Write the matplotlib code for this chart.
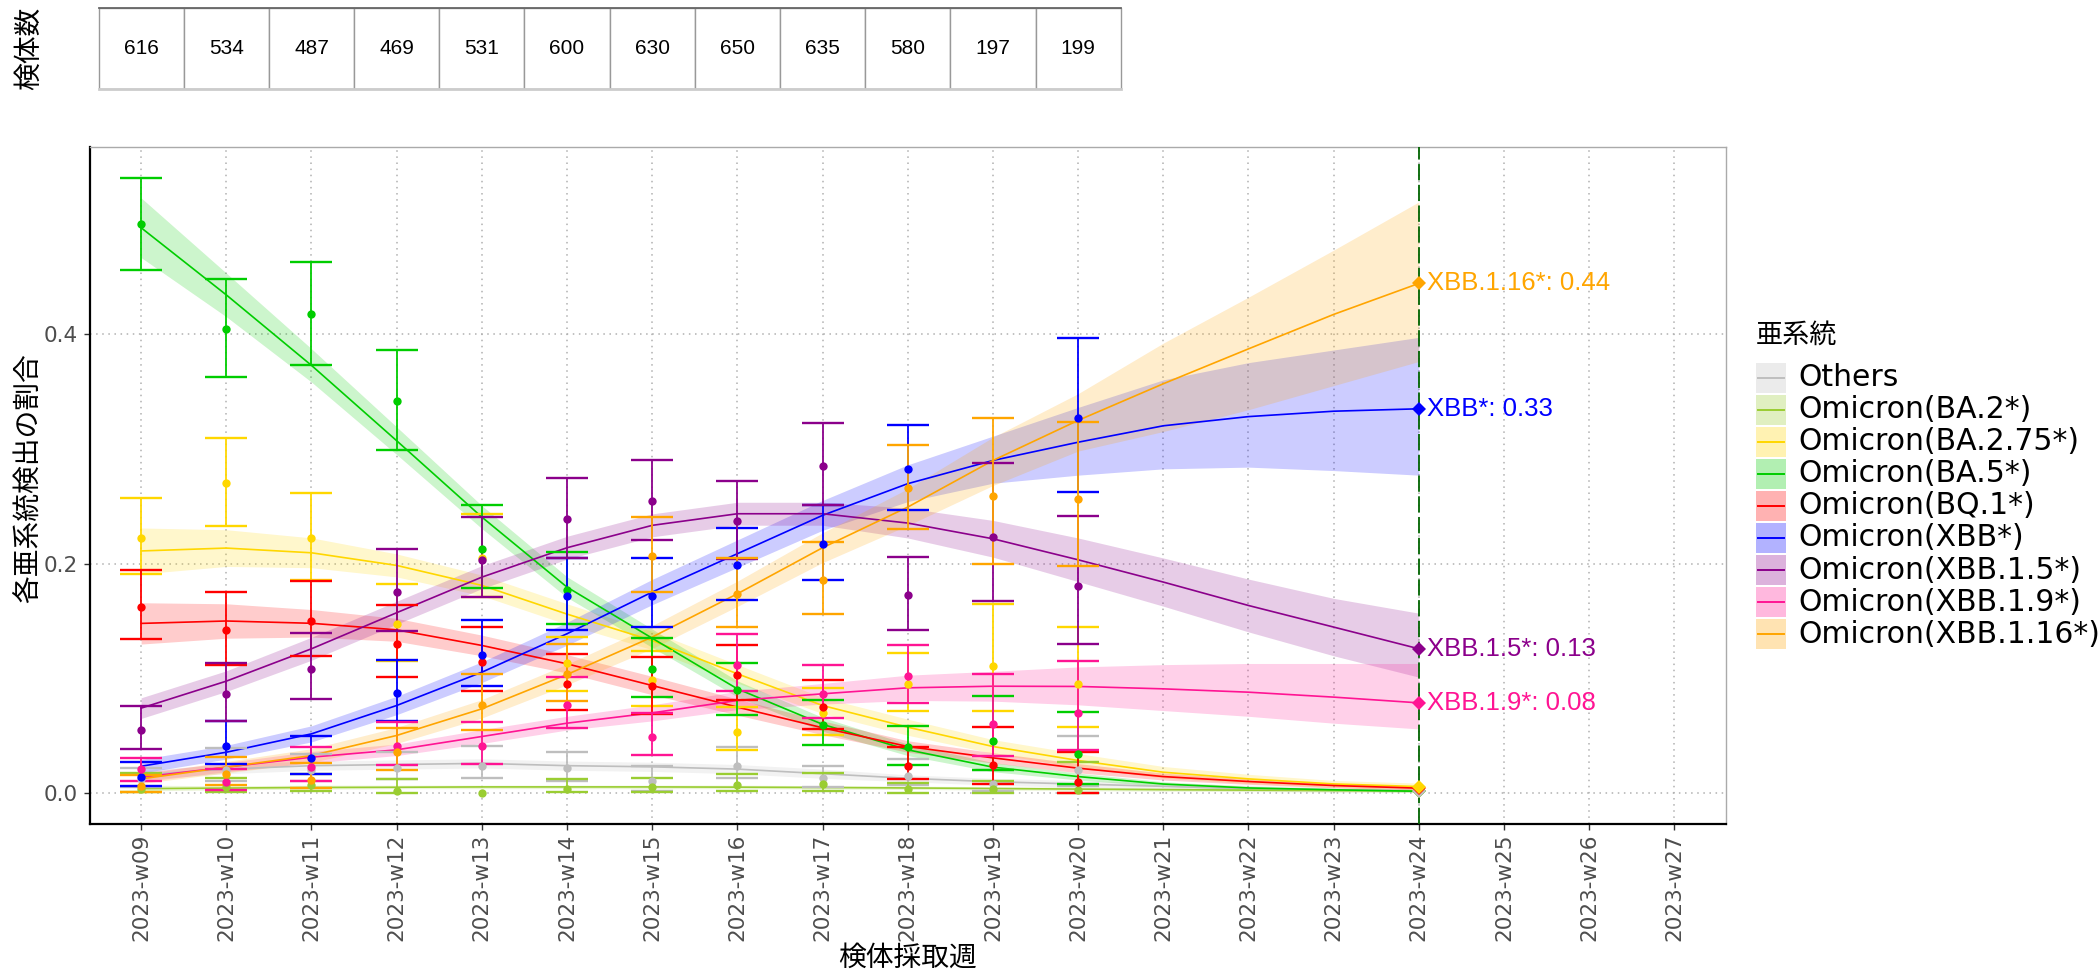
import numpy as np
import matplotlib
matplotlib.use("Agg")
import matplotlib.pyplot as plt
from matplotlib.patches import Rectangle
from matplotlib.lines import Line2D

plt.rcParams['font.family'] = ['DejaVu Sans', 'Noto Sans CJK JP']
JP = ['Noto Sans CJK JP', 'DejaVu Sans']

# ---- data ----
week_labels = ["2023-w09", "2023-w10", "2023-w11", "2023-w12", "2023-w13",
               "2023-w14", "2023-w15", "2023-w16", "2023-w17", "2023-w18",
               "2023-w19", "2023-w20", "2023-w21", "2023-w22", "2023-w23",
               "2023-w24", "2023-w25", "2023-w26", "2023-w27"]
counts = [616, 534, 487, 469, 531, 600, 630, 650, 635, 580, 197, 199]

names = ["Others", "Omicron(BA.2*)", "Omicron(BA.2.75*)", "Omicron(BA.5*)",
         "Omicron(BQ.1*)", "Omicron(XBB*)", "Omicron(XBB.1.5*)",
         "Omicron(XBB.1.9*)", "Omicron(XBB.1.16*)"]
short_names = [None, None, None, None, None, "XBB*", "XBB.1.5*", "XBB.1.9*", "XBB.1.16*"]
colors = ["#BEBEBE", "#9ACD32", "#FFD700", "#00CD00", "#FF0000",
          "#0000FF", "#8B008B", "#FF1493", "#FFA500"]

# observed proportions with CI (w09..w20)
others_pt = [0.012, 0.020, 0.020, 0.022, 0.024, 0.022, 0.011, 0.024, 0.013, 0.015, 0.008, 0.020]
others_lo = [0.005, 0.011, 0.011, 0.012, 0.013, 0.011, 0.002, 0.013, 0.005, 0.007, 0.002, 0.006]
others_hi = [0.022, 0.039, 0.034, 0.036, 0.041, 0.036, 0.024, 0.040, 0.024, 0.030, 0.020, 0.050]

ba2_pt = [0.004, 0.005, 0.007, 0.002, 0.000, 0.004, 0.005, 0.007, 0.008, 0.004, 0.004, 0.003]
ba2_lo = [0.001, 0.001, 0.002, 0.000, np.nan, 0.001, 0.001, 0.002, 0.002, 0.000, 0.000, 0.000]
ba2_hi = [0.018, 0.013, 0.017, 0.012, np.nan, 0.012, 0.013, 0.017, 0.018, 0.009, 0.011, 0.027]

ba275_pt = [0.2225, 0.2702, 0.2219, 0.1476, 0.205, 0.113, 0.0988, 0.0537, 0.0697, 0.095, 0.111, 0.0953]
ba275_lo = [0.1906, 0.2327, 0.1853, 0.115, 0.171, 0.089, 0.0764, 0.0378, 0.051, 0.072, 0.0712, 0.058]
ba275_hi = [0.2574, 0.3098, 0.2614, 0.1824, 0.243, 0.136, 0.124, 0.075, 0.092, 0.1217, 0.1644, 0.1452]

ba5_pt = [0.4954, 0.4045, 0.417, 0.3412, 0.213, 0.177, 0.1078, 0.0895, 0.0598, 0.040, 0.0453, 0.034]
ba5_lo = [0.4553, 0.3626, 0.3728, 0.2985, 0.179, 0.147, 0.0842, 0.068, 0.0424, 0.025, 0.0206, 0.008]
ba5_hi = [0.5358, 0.4478, 0.4623, 0.3862, 0.2507, 0.2097, 0.135, 0.1136, 0.0808, 0.0584, 0.0845, 0.0709]

bq1_pt = [0.162, 0.142, 0.1499, 0.130, 0.1147, 0.095, 0.0938, 0.103, 0.0755, 0.0238, 0.025, 0.0099]
bq1_lo = [0.134, 0.112, 0.1194, 0.1008, 0.0889, 0.0726, 0.069, 0.0808, 0.056, 0.0128, 0.0081, 0.0006]
bq1_hi = [0.194, 0.1749, 0.185, 0.1635, 0.145, 0.121, 0.119, 0.129, 0.0988, 0.040, 0.0578, 0.036]

xbb_pt = [0.014, 0.0407, 0.0305, 0.0871, 0.1205, 0.1717, 0.172, 0.1984, 0.2167, 0.2825, np.nan, 0.327]
xbb_lo = [0.0061, 0.0256, 0.0168, 0.0633, 0.0938, 0.1423, 0.1444, 0.1685, 0.186, 0.2463, np.nan, 0.262]
xbb_hi = [0.027, 0.0627, 0.050, 0.116, 0.151, 0.205, 0.2048, 0.2312, 0.251, 0.3211, np.nan, 0.3966]

xbb15_pt = [0.0552, 0.086, 0.1086, 0.1749, 0.2033, 0.2385, 0.2542, 0.237, 0.285, 0.1723, 0.2231, 0.1807]
xbb15_lo = [0.0383, 0.0633, 0.0822, 0.1415, 0.1705, 0.2045, 0.2202, 0.204, 0.251, 0.1423, 0.1673, 0.130]
xbb15_hi = [0.0761, 0.1133, 0.1397, 0.2123, 0.2405, 0.2748, 0.2898, 0.2716, 0.322, 0.2054, 0.288, 0.2417]

xbb19_pt = [0.0209, 0.0096, 0.0227, 0.0407, 0.0412, 0.0767, 0.0488, 0.1121, 0.086, 0.1017, 0.0604, 0.0697]
xbb19_lo = [0.011, 0.003, 0.011, 0.0244, 0.0256, 0.0569, 0.0334, 0.0889, 0.0656, 0.0784, 0.032, 0.0378]
xbb19_hi = [0.031, 0.021, 0.040, 0.0619, 0.0619, 0.101, 0.070, 0.1389, 0.1113, 0.1293, 0.104, 0.115]

xbb116_pt = [0.0067, 0.0168, 0.0119, 0.0363, 0.077, 0.1034, 0.2065, 0.1737, 0.1859, 0.2661, 0.2591, 0.2562]
xbb116_lo = [0.0015, 0.0073, 0.0044, 0.0206, 0.0552, 0.0799, 0.1752, 0.1452, 0.1563, 0.2304, 0.1993, 0.1975]
xbb116_hi = [0.0163, 0.0314, 0.0261, 0.0569, 0.1034, 0.130, 0.2405, 0.2051, 0.2187, 0.3037, 0.3266, 0.3232]

# fitted curves with ribbon (w09..w24)
others_fit = [0.016, 0.021, 0.024, 0.025, 0.026, 0.024, 0.023, 0.021, 0.017, 0.013, 0.010, 0.008, 0.006, 0.004, 0.003, 0.0023]
others_flo = [0.012, 0.017, 0.020, 0.021, 0.022, 0.020, 0.019, 0.017, 0.013, 0.010, 0.007, 0.005, 0.003, 0.002, 0.001, 0.001]
others_fhi = [0.020, 0.025, 0.028, 0.029, 0.030, 0.028, 0.027, 0.025, 0.021, 0.016, 0.013, 0.011, 0.009, 0.007, 0.005, 0.004]

ba2_fit = [0.004, 0.0045, 0.005, 0.0052, 0.0055, 0.0055, 0.0055, 0.0053, 0.005, 0.0046, 0.0041, 0.0036, 0.0031, 0.0027, 0.0023, 0.002]
ba2_flo = [0.002, 0.003, 0.0035, 0.004, 0.004, 0.004, 0.004, 0.004, 0.0037, 0.0033, 0.0028, 0.0023, 0.0018, 0.0014, 0.0011, 0.0008]
ba2_fhi = [0.007, 0.0065, 0.007, 0.007, 0.007, 0.007, 0.007, 0.007, 0.0066, 0.0062, 0.0057, 0.0052, 0.0047, 0.0043, 0.0039, 0.0036]

ba275_fit = [0.211, 0.2135, 0.2094, 0.1984, 0.181, 0.156, 0.133, 0.104, 0.0764, 0.0575, 0.0407, 0.0285, 0.0183, 0.0125, 0.0081, 0.0058]
ba275_flo = [0.191, 0.1975, 0.1964, 0.1884, 0.172, 0.147, 0.125, 0.096, 0.0694, 0.0505, 0.0347, 0.0225, 0.0133, 0.0085, 0.0051, 0.0028]
ba275_fhi = [0.231, 0.2295, 0.2224, 0.2084, 0.190, 0.165, 0.141, 0.112, 0.0834, 0.0645, 0.0467, 0.0345, 0.0233, 0.0165, 0.0111, 0.0088]

ba5_fit = [0.4925, 0.434, 0.3726, 0.307, 0.2405, 0.1795, 0.135, 0.0909, 0.060, 0.0378, 0.0227, 0.0145, 0.008, 0.0046, 0.003, 0.0017]
ba5_flo = [0.4665, 0.415, 0.3581, 0.295, 0.2305, 0.1705, 0.127, 0.0839, 0.054, 0.0328, 0.0187, 0.0115, 0.006, 0.0031, 0.002, 0.0009]
ba5_fhi = [0.5185, 0.453, 0.3871, 0.319, 0.2505, 0.1885, 0.143, 0.0979, 0.066, 0.0428, 0.0267, 0.0175, 0.010, 0.0061, 0.004, 0.0025]

bq1_fit = [0.1479, 0.150, 0.148, 0.1423, 0.1287, 0.1127, 0.0938, 0.075, 0.057, 0.0407, 0.0308, 0.0218, 0.0145, 0.0102, 0.0067, 0.0044]
bq1_flo = [0.1299, 0.135, 0.136, 0.1323, 0.1197, 0.1047, 0.0858, 0.068, 0.051, 0.0357, 0.0263, 0.0178, 0.0115, 0.0077, 0.0047, 0.0029]
bq1_fhi = [0.1659, 0.165, 0.160, 0.1523, 0.1377, 0.1207, 0.1018, 0.082, 0.063, 0.0457, 0.0353, 0.0258, 0.0175, 0.0127, 0.0087, 0.0059]

xbb_fit = [0.0235, 0.0357, 0.0517, 0.0764, 0.1054, 0.1389, 0.1752, 0.2086, 0.242, 0.2696, 0.2898, 0.3057, 0.320, 0.328, 0.3327, 0.3348]
xbb_flo = [0.0175, 0.0297, 0.0447, 0.0684, 0.0964, 0.1289, 0.1642, 0.1966, 0.229, 0.254, 0.270, 0.277, 0.2825, 0.284, 0.281, 0.277]
xbb_fhi = [0.0295, 0.0417, 0.0587, 0.0844, 0.1144, 0.1489, 0.1862, 0.2206, 0.255, 0.286, 0.311, 0.336, 0.360, 0.375, 0.386, 0.397]

xbb15_fit = [0.0741, 0.0976, 0.1258, 0.1572, 0.1882, 0.2138, 0.2333, 0.2434, 0.2434, 0.2353, 0.2216, 0.2033, 0.1839, 0.1635, 0.1447, 0.1258]
xbb15_flo = [0.0651, 0.0886, 0.1158, 0.1472, 0.1782, 0.2038, 0.2233, 0.2334, 0.2334, 0.2223, 0.2056, 0.1843, 0.1629, 0.1405, 0.1197, 0.1011]
xbb15_fhi = [0.0831, 0.1066, 0.1358, 0.1672, 0.1982, 0.2238, 0.2433, 0.2534, 0.2534, 0.2483, 0.2376, 0.2223, 0.2049, 0.1865, 0.1697, 0.1568]

xbb19_fit = [0.0139, 0.0227, 0.0314, 0.0378, 0.0494, 0.061, 0.070, 0.0808, 0.0866, 0.0918, 0.0932, 0.093, 0.0909, 0.088, 0.0837, 0.0787]
xbb19_flo = [0.0099, 0.0187, 0.0264, 0.0328, 0.0434, 0.055, 0.063, 0.0728, 0.0776, 0.0808, 0.0802, 0.077, 0.072, 0.067, 0.061, 0.056]
xbb19_fhi = [0.0179, 0.0267, 0.0364, 0.0428, 0.0554, 0.067, 0.077, 0.0888, 0.0956, 0.1028, 0.1062, 0.110, 0.112, 0.113, 0.113, 0.113]

xbb116_fit = [0.0125, 0.0227, 0.0328, 0.0503, 0.0735, 0.1034, 0.136, 0.1737, 0.2138, 0.2492, 0.2898, 0.3247, 0.3566, 0.387, 0.417, 0.444]
xbb116_flo = [0.0085, 0.0177, 0.0268, 0.0433, 0.0655, 0.0944, 0.126, 0.1627, 0.2008, 0.2332, 0.268, 0.298, 0.315, 0.334, 0.355, 0.376]
xbb116_fhi = [0.0165, 0.0277, 0.0388, 0.0573, 0.0815, 0.1124, 0.146, 0.1847, 0.2268, 0.2652, 0.310, 0.348, 0.392, 0.432, 0.473, 0.515]

obs = [(others_pt, others_lo, others_hi), (ba2_pt, ba2_lo, ba2_hi),
       (ba275_pt, ba275_lo, ba275_hi), (ba5_pt, ba5_lo, ba5_hi),
       (bq1_pt, bq1_lo, bq1_hi), (xbb_pt, xbb_lo, xbb_hi),
       (xbb15_pt, xbb15_lo, xbb15_hi), (xbb19_pt, xbb19_lo, xbb19_hi),
       (xbb116_pt, xbb116_lo, xbb116_hi)]
fits = [(others_fit, others_flo, others_fhi), (ba2_fit, ba2_flo, ba2_fhi),
        (ba275_fit, ba275_flo, ba275_fhi), (ba5_fit, ba5_flo, ba5_fhi),
        (bq1_fit, bq1_flo, bq1_fhi), (xbb_fit, xbb_flo, xbb_fhi),
        (xbb15_fit, xbb15_flo, xbb15_fhi), (xbb19_fit, xbb19_flo, xbb19_fhi),
        (xbb116_fit, xbb116_flo, xbb116_fhi)]

# ---- figure ----
W, H = 2099, 973
fig = plt.figure(figsize=(W / 100, H / 100), dpi=100)
L, R, T, B = 90, 1725.5, 147, 824
ax = fig.add_axes([L / W, 1 - B / H, (R - L) / W, (B - T) / H])

x_obs = np.arange(len(counts))
x_fit = np.arange(len(others_fit))
last = x_fit[-1]

# ribbons
for (f, lo, hi), c in zip(fits, colors):
    ax.fill_between(x_fit, lo, hi, color=c, alpha=0.2, lw=0, zorder=1)
# fitted lines
for (f, lo, hi), c in zip(fits, colors):
    ax.plot(x_fit, f, color=c, lw=1.2, zorder=2)
# error bars + points
for (p, lo, hi), c in zip(obs, colors):
    p = np.array(p, float)
    lo = np.array(lo, float)
    hi = np.array(hi, float)
    ax.errorbar(x_obs, p, yerr=[p - lo, hi - p], fmt='none', ecolor=c,
                elinewidth=1.3, capsize=15, capthick=1.7, zorder=3)
    ax.plot(x_obs, p, 'o', color=c, ms=6, mew=0, zorder=4)

# end-point diamonds, drawn from smallest value upward
end_vals = [f[-1] for f, lo, hi in fits]
for k in np.argsort(end_vals):
    ax.plot([last], [end_vals[k]], 'D', color=colors[k], ms=7, mew=0, zorder=5)
    if short_names[k]:
        ax.text(last + 0.1, end_vals[k], f"{short_names[k]}: {end_vals[k]:.2f}",
                color=colors[k], fontsize=18.5, family='Liberation Sans',
                ha='left', va='center', zorder=6)

ax.axvline(last, color='#006400', lw=1.3, dashes=(9, 2.5), zorder=4.5)

ax.set_xlim(-0.6, 18.6)
ax.set_ylim(-0.0268, 0.5628)
ax.set_xticks(np.arange(len(week_labels)))
ax.set_xticklabels(week_labels, rotation=90, fontsize=15.5, color='#4D4D4D')
ax.set_yticks([0.0, 0.2, 0.4])
ax.set_yticklabels(["0.0", "0.2", "0.4"], fontsize=15.5, color='#4D4D4D')
ax.tick_params(axis='x', length=4, width=1, pad=3, color='#333333')
ax.tick_params(axis='y', length=4, width=1, pad=5, color='#333333')
ax.grid(True, color='#B0B0B0', lw=1.1, linestyle=(0, (1, 3)))
ax.set_axisbelow(True)
for s in ['top', 'right']:
    ax.spines[s].set_color('#AAAAAA')
    ax.spines[s].set_linewidth(1)
for s in ['left', 'bottom']:
    ax.spines[s].set_color('black')
    ax.spines[s].set_linewidth(1.6)

# sample count table above the panel
ax_t = fig.add_axes([L / W, 1 - 89 / H, (R - L) / W, (89 - 8.3) / H])
ax_t.set_xlim(-0.6, 18.6)
ax_t.set_ylim(0, 1)
ax_t.axis('off')
for i, n in enumerate(counts):
    ax_t.add_patch(Rectangle((i - 0.5, 0), 1, 1, facecolor='white',
                             edgecolor='#999999', lw=1))
    ax_t.text(i, 0.5, str(n), ha='center', va='center', fontsize=15,
              family='Liberation Sans', color='black')
ax_t.plot([-0.5, len(counts) - 0.5], [1, 1], color='#666666', lw=1.3, clip_on=False)
ax_t.plot([-0.5, len(counts) - 0.5], [0, 0], color='#CCCCCC', lw=2, clip_on=False)

# overlay in pixel coordinates for labels and legend
ov = fig.add_axes([0, 0, 1, 1])
ov.set_xlim(0, W)
ov.set_ylim(H, 0)
ov.axis('off')

ov.text(29, 48, "検体数", rotation=90, ha='center', va='center', fontsize=20, family=JP)
ov.text(29, 478, "各亜系統検出の割合", rotation=90, ha='center', va='center',
        fontsize=20, family=JP)
ov.text((L + R) / 2, 958, "検体採取週", ha='center', va='center', fontsize=20, family=JP)

# legend
ov.text(1756, 335, "亜系統", ha='left', va='center', fontsize=19.5, family=JP)
for i, (nm, c) in enumerate(zip(names, colors)):
    yc = 377.5 + 32.1 * i
    ov.add_patch(Rectangle((1756, yc - 15), 30, 30, facecolor=c, alpha=0.3, lw=0))
    ov.add_line(Line2D([1758, 1784], [yc, yc], color=c, lw=1.4))
    ov.text(1798, yc, nm, ha='left', va='center', fontsize=21.5)

fig.savefig("out.png", dpi=100)
